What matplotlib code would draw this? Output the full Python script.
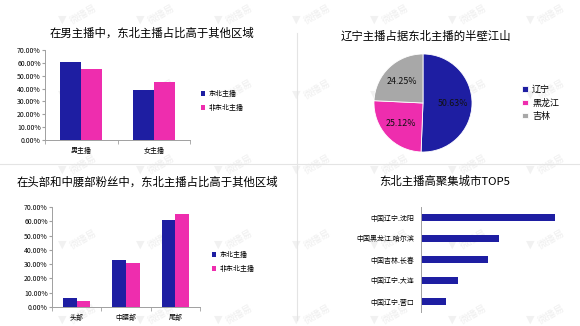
import matplotlib
matplotlib.use("Agg")
import matplotlib.pyplot as plt
from matplotlib.lines import Line2D
import numpy as np

plt.rcParams['font.family'] = ['Noto Sans CJK SC', 'DejaVu Sans']

# =============================
# DATA
# =============================
gender_cats = ["男主播", "女主播"]
gender_ne = [61.0, 39.0]
gender_other = [55.0, 45.0]

pie_labels = ["辽宁", "黑龙江", "吉林"]
pie_values = [50.63, 25.12, 24.25]

fan_cats = ["头部", "中腰部", "尾部"]
fan_ne = [6.0, 33.0, 61.0]
fan_other = [4.5, 30.5, 65.0]

city_names = ["中国辽宁.沈阳", "中国黑龙江.哈尔滨", "中国吉林.长春", "中国辽宁.大连", "中国辽宁.营口"]
city_values = [403, 233, 201, 111, 76]

series_names = ["东北主播", "非东北主播"]

# =============================
# STYLE
# =============================
BLUE = "#1E1EA2"
PINK = "#EE2DAE"
GRAY = "#A8A8A8"
AXIS = "#A0A0A0"
W, H = 580, 326


def fx(px):
    return px / W


def fy(py):
    return 1 - py / H


fig = plt.figure(figsize=(5.8, 3.26), dpi=100)
fig.patch.set_facecolor("white")

# faint watermarks, drawn behind the axes
for cx in range(62, 540, 78):
    for cy in range(20, 330, 75):
        fig.text(fx(cx), fy(cy), "▼", color="#F1F1F1", fontsize=8,
                 ha="center", va="center", zorder=-2, family="DejaVu Sans")
        fig.text(fx(cx + 21), fy(cy - 6), "微播易", color="#EFEFEF", fontsize=7,
                 ha="center", va="center", rotation=30, zorder=-2)

# separators
fig.add_artist(Line2D([0, 1], [fy(164), fy(164)], color="#E4E4E4", lw=0.8, zorder=-1))
fig.add_artist(Line2D([fx(297), fx(297)], [fy(33), fy(320)], color="#E4E4E4", lw=0.8, zorder=-1))


def style_bar_axes(ax, ncat):
    ax.set_ylim(0, 70)
    ax.set_yticks(np.arange(0, 71, 10))
    ax.set_yticklabels([f"{v:.2f}%" for v in np.arange(0, 71, 10)])
    ax.set_xlim(-0.5, ncat - 0.5)
    ax.set_xticks(np.arange(ncat))
    ax.set_xticks(np.arange(-0.5, ncat, 1), minor=True)
    ax.tick_params(axis="x", which="major", length=0, labelsize=5, pad=5)
    ax.tick_params(axis="x", which="minor", length=3, color=AXIS)
    ax.tick_params(axis="y", length=2, color=AXIS, labelsize=5, pad=1)
    for s in ["top", "right"]:
        ax.spines[s].set_visible(False)
    for s in ["left", "bottom"]:
        ax.spines[s].set_color(AXIS)
        ax.spines[s].set_linewidth(0.7)
    ax.set_facecolor("none")


def legend_at(ax, handles, x, y):
    ax.legend(handles, series_names, loc="center left", bbox_to_anchor=(fx(x), fy(y)),
              bbox_transform=fig.transFigure, frameon=False, fontsize=5,
              handlelength=0.6, handleheight=0.6, handletextpad=0.4, labelspacing=0.9)


# =============================
# TOP LEFT
# =============================
ax1 = fig.add_axes([fx(45), fy(140), fx(145), 90 / H])
x = np.arange(len(gender_cats))
bw = 0.29
b1 = ax1.bar(x - bw / 2, gender_ne, bw, color=BLUE)
b2 = ax1.bar(x + bw / 2, gender_other, bw, color=PINK)
ax1.set_xticklabels(gender_cats)
style_bar_axes(ax1, len(gender_cats))
legend_at(ax1, [b1, b2], 195, 101)
fig.text(fx(152), fy(33), "在男主播中，东北主播占比高于其他区域", fontsize=8.2,
         ha="center", va="center")

# =============================
# TOP RIGHT
# =============================
ax2 = fig.add_axes([fx(373), fy(153), fx(100), 100 / H])
wedges, _, autotexts = ax2.pie(pie_values, colors=[BLUE, PINK, GRAY], startangle=90,
                               counterclock=False, autopct="%.2f%%", pctdistance=0.62,
                               textprops=dict(fontsize=6.4, color="#111111"),
                               wedgeprops=dict(linewidth=0.6, edgecolor="white"))
ax2.set_xlim(-1.02, 1.02)
ax2.set_ylim(-1.02, 1.02)
ax2.set_aspect("equal")
ax2.legend(wedges, pie_labels, loc="center left", bbox_to_anchor=(fx(514), fy(103)),
           bbox_transform=fig.transFigure, frameon=False, fontsize=6.5,
           handlelength=0.6, handleheight=0.6, handletextpad=0.5, labelspacing=0.45)
fig.text(fx(426), fy(36), "辽宁主播占据东北主播的半壁江山", fontsize=8.2,
         ha="center", va="center")

# =============================
# BOTTOM LEFT
# =============================
ax3 = fig.add_axes([fx(52), fy(307), fx(148), 100 / H])
x = np.arange(len(fan_cats))
bw = 0.28
b1 = ax3.bar(x - bw / 2, fan_ne, bw, color=BLUE)
b2 = ax3.bar(x + bw / 2, fan_other, bw, color=PINK)
ax3.set_xticklabels(fan_cats)
style_bar_axes(ax3, len(fan_cats))
legend_at(ax3, [b1, b2], 206, 262)
fig.text(fx(147), fy(182), "在头部和中腰部粉丝中，东北主播占比高于其他区域", fontsize=8.2,
         ha="center", va="center")

# =============================
# BOTTOM RIGHT
# =============================
ax4 = fig.add_axes([fx(421), fy(312), fx(140), 105 / H])
y = np.arange(len(city_names))
ax4.barh(y, city_values, height=0.38, color=BLUE)
ax4.set_ylim(len(city_names) - 0.5, -0.5)
ax4.set_xlim(0, 420)
ax4.set_yticks(y)
ax4.set_yticklabels(city_names)
ax4.set_xticks([])
ax4.tick_params(axis="y", length=0, labelsize=5, pad=5)
for s in ["top", "right", "bottom"]:
    ax4.spines[s].set_visible(False)
ax4.spines["left"].set_color(AXIS)
ax4.spines["left"].set_linewidth(0.7)
ax4.set_facecolor("none")
fig.text(fx(445), fy(181), "东北主播高聚集城市TOP5", fontsize=8.2,
         ha="center", va="center")

fig.savefig("out.png", dpi=100)
